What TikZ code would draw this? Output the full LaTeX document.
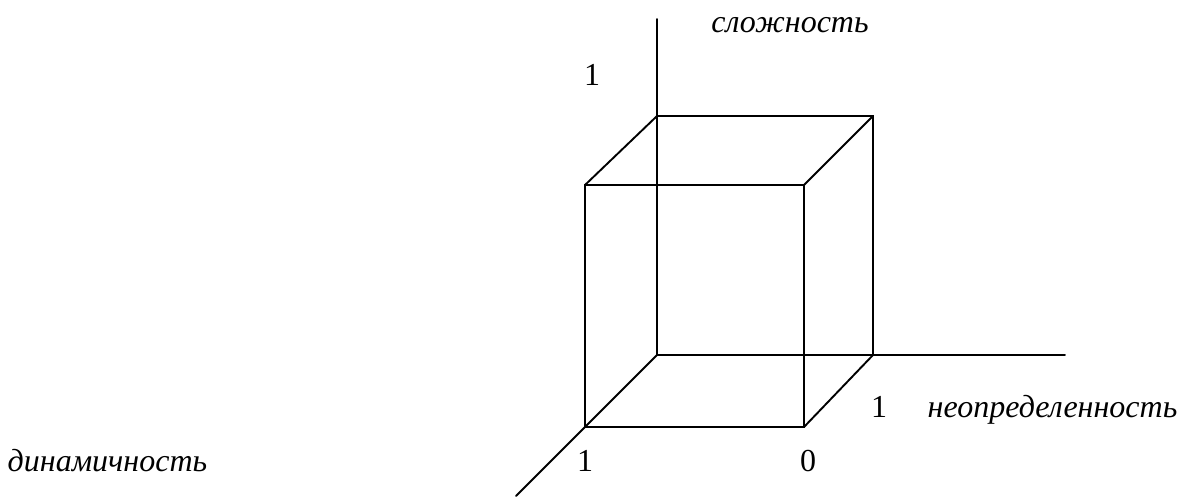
\documentclass[tikz,border=0pt]{standalone}
\usepackage{fontspec}
\setmainfont{Liberation Serif}
\begin{document}
\begin{tikzpicture}[x=1pt,y=-1pt,
  edge/.style={line width=1.9pt, line cap=round},
  lbl/.style={anchor=base, inner sep=0pt, font=\fontsize{32}{38}\selectfont},
  ilbl/.style={lbl, font=\fontsize{32}{38}\selectfont\itshape}]
\useasboundingbox (0,0) rectangle (1182,496);
% back square
\coordinate (B1) at (657,116);
\coordinate (B2) at (873,116);
\coordinate (B3) at (873,355);
\coordinate (B4) at (657,355);
% front square
\coordinate (F1) at (585,185);
\coordinate (F2) at (804,185);
\coordinate (F3) at (804,427);
\coordinate (F4) at (585,427);
% axis ends
\coordinate (Ztop) at (657,19);
\coordinate (Xend) at (1065,355);
\coordinate (Yend) at (516,496);
% axes
\draw[edge] (Ztop) -- (B4);
\draw[edge] (B4) -- (Xend);
\draw[edge] (B4) -- (Yend);
% cube
\draw[edge] (B1) -- (B2) -- (B3);
\draw[edge] (F1) -- (F2) -- (F3) -- (F4) -- cycle;
\draw[edge] (F1) -- (B1);
\draw[edge] (F2) -- (B2);
\draw[edge] (F3) -- (B3);
% labels
\node[ilbl] (lz) at (790,32) {сложность};
\node[lbl] (l1z) at (592,85) {1};
\node[lbl] (l1x) at (879,417) {1};
\node[ilbl] (lx) at (1052.5,417) {неопределенность};
\node[ilbl] (ly) at (107.5,471.5) {динамичность};
\node[lbl] (l1y) at (585,471.5) {1};
\node[lbl] (l0) at (808,471.5) {0};
\end{tikzpicture}
\end{document}
